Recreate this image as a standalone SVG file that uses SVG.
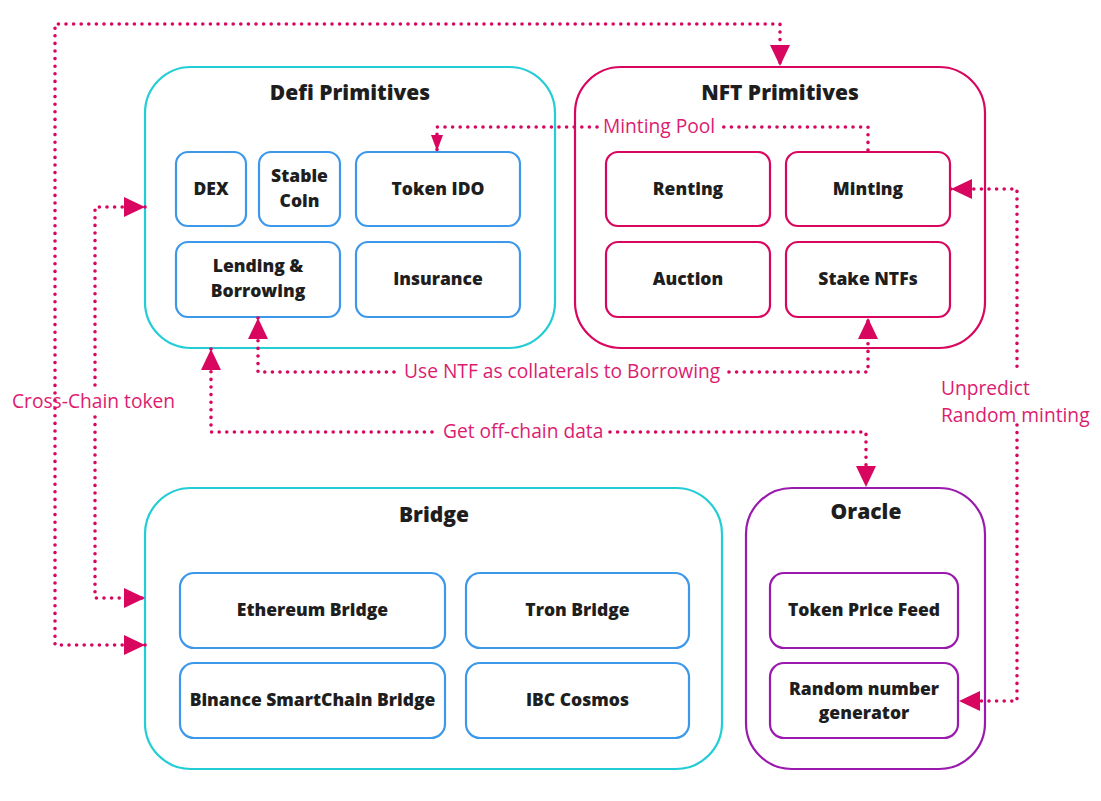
<svg xmlns="http://www.w3.org/2000/svg" width="1101" height="801" viewBox="0 0 1101 801">
<defs>
<style>
.bg{fill:#ffffff}
.cont{fill:#ffffff;stroke-width:2.2}
.cyan{stroke:#22cdd6}
.pink{stroke:#d8065f}
.purple{stroke:#9b1aae}
.inner{fill:#ffffff;stroke-width:2.2}
.blue{stroke:#3d98ea}
.title{font-family:"Open Sans","Noto Sans",sans-serif;font-weight:800;font-size:21px;fill:#1e1e1e;text-anchor:middle;font-variant-ligatures:none}
.lbl{font-family:"Open Sans","Noto Sans",sans-serif;font-weight:800;font-size:17.5px;fill:#1e1e1e;text-anchor:middle;font-variant-ligatures:none}
.edge{fill:none;stroke:#d8065f;stroke-width:3.6;stroke-linecap:round;stroke-linejoin:round;stroke-dasharray:0 7.6}
.elbl{font-family:"Open Sans","Noto Sans",sans-serif;font-size:19.2px;fill:#dc1c70}
</style>
<marker id="arr" viewBox="0 0 21 20" refX="21" refY="10" markerWidth="21" markerHeight="20" markerUnits="userSpaceOnUse" orient="auto-start-reverse">
<path d="M0,0 L21,10 L0,20 z" fill="#d8065f"/>
</marker>
<marker id="arrs" viewBox="0 0 16 12" refX="16" refY="6" markerWidth="16" markerHeight="12" markerUnits="userSpaceOnUse" orient="auto-start-reverse">
<path d="M0,0 L16,6 L0,12 z" fill="#d8065f"/>
</marker>
</defs>
<rect class="bg" x="0" y="0" width="1101" height="801"/>

<g id="defi">
<rect class="cont cyan" x="145" y="67" width="410" height="281" rx="46"/>
<text class="title" x="350" y="100">Defi Primitives</text>
</g>
<g id="dex"><rect class="inner blue" x="176" y="152" width="70" height="74" rx="12"/><text class="lbl" x="211" y="195">DEX</text></g>
<g id="stablecoin"><rect class="inner blue" x="259" y="152" width="81" height="74" rx="12"/><text class="lbl" x="299.5" y="182">Stable</text><text class="lbl" x="299.5" y="207">Coin</text></g>
<g id="tokenido"><rect class="inner blue" x="356" y="152" width="164" height="74" rx="12"/><text class="lbl" x="438" y="195">Token IDO</text></g>
<g id="lending"><rect class="inner blue" x="176" y="242" width="164" height="75" rx="12"/><text class="lbl" x="258" y="272">Lending &amp;</text><text class="lbl" x="258" y="297">Borrowing</text></g>
<g id="insurance"><rect class="inner blue" x="356" y="242" width="164" height="75" rx="12"/><text class="lbl" x="438" y="285">Insurance</text></g>

<g id="nft">
<rect class="cont pink" x="575" y="67" width="410" height="281" rx="46"/>
<text class="title" x="780" y="100">NFT Primitives</text>
</g>
<g id="renting"><rect class="inner pink" x="606" y="152" width="164" height="74" rx="12"/><text class="lbl" x="688" y="195">Renting</text></g>
<g id="minting"><rect class="inner pink" x="786" y="152" width="164" height="74" rx="12"/><text class="lbl" x="868" y="195">Minting</text></g>
<g id="auction"><rect class="inner pink" x="606" y="242" width="164" height="75" rx="12"/><text class="lbl" x="688" y="285">Auction</text></g>
<g id="stakentfs"><rect class="inner pink" x="786" y="242" width="164" height="75" rx="12"/><text class="lbl" x="868" y="285">Stake NTFs</text></g>

<g id="bridge">
<rect class="cont cyan" x="145" y="488" width="577" height="281" rx="46"/>
<text class="title" x="434" y="522">Bridge</text>
</g>
<g id="ethbridge"><rect class="inner blue" x="180" y="573" width="265" height="75" rx="14"/><text class="lbl" x="312.5" y="616">Ethereum Bridge</text></g>
<g id="tronbridge"><rect class="inner blue" x="466" y="573" width="223" height="75" rx="14"/><text class="lbl" x="577.5" y="616">Tron Bridge</text></g>
<g id="bscbridge"><rect class="inner blue" x="180" y="663" width="265" height="75" rx="14"/><text class="lbl" x="312.5" y="706">Binance SmartChain Bridge</text></g>
<g id="ibc"><rect class="inner blue" x="466" y="663" width="223" height="75" rx="14"/><text class="lbl" x="577.5" y="706">IBC Cosmos</text></g>

<g id="oracle">
<rect class="cont purple" x="746" y="488" width="239" height="281" rx="46"/>
<text class="title" x="866" y="519">Oracle</text>
</g>
<g id="pricefeed"><rect class="inner purple" x="770" y="573" width="188" height="75" rx="14"/><text class="lbl" x="864" y="616">Token Price Feed</text></g>
<g id="rng"><rect class="inner purple" x="770" y="663" width="188" height="75" rx="14"/><text class="lbl" x="864" y="695">Random number</text><text class="lbl" x="864" y="719">generator</text></g>

<g id="connectors">
<path class="edge" d="M145,645 H55 V24 H780 V66" marker-start="url(#arr)" marker-end="url(#arr)"/>
<path class="edge" d="M145,207 H95 V388 M95,417 V598 H145" marker-start="url(#arr)" marker-end="url(#arr)"/>
<text class="elbl" x="12" y="408">Cross-Chain token</text>
<path class="edge" d="M868,150 V127 H721 M597,127 H437 V151" marker-end="url(#arrs)"/>
<text class="elbl" x="603" y="133">Minting Pool</text>
<path class="edge" d="M258,318 V372 H397 M729,372 H868 V318" marker-start="url(#arr)" marker-end="url(#arr)"/>
<text class="elbl" x="404" y="378">Use NTF as collaterals to Borrowing</text>
<path class="edge" d="M211,349 V432 H437 M610,432 H866 V487" marker-start="url(#arr)" marker-end="url(#arr)"/>
<text class="elbl" x="443" y="438">Get off-chain data</text>
<path class="edge" d="M951,189 H1017 V370 M1017,425 V701 H959" marker-start="url(#arr)" marker-end="url(#arr)"/>
<text class="elbl" x="941" y="395">Unpredict</text>
<text class="elbl" x="941" y="422">Random minting</text>
</g>
</svg>
